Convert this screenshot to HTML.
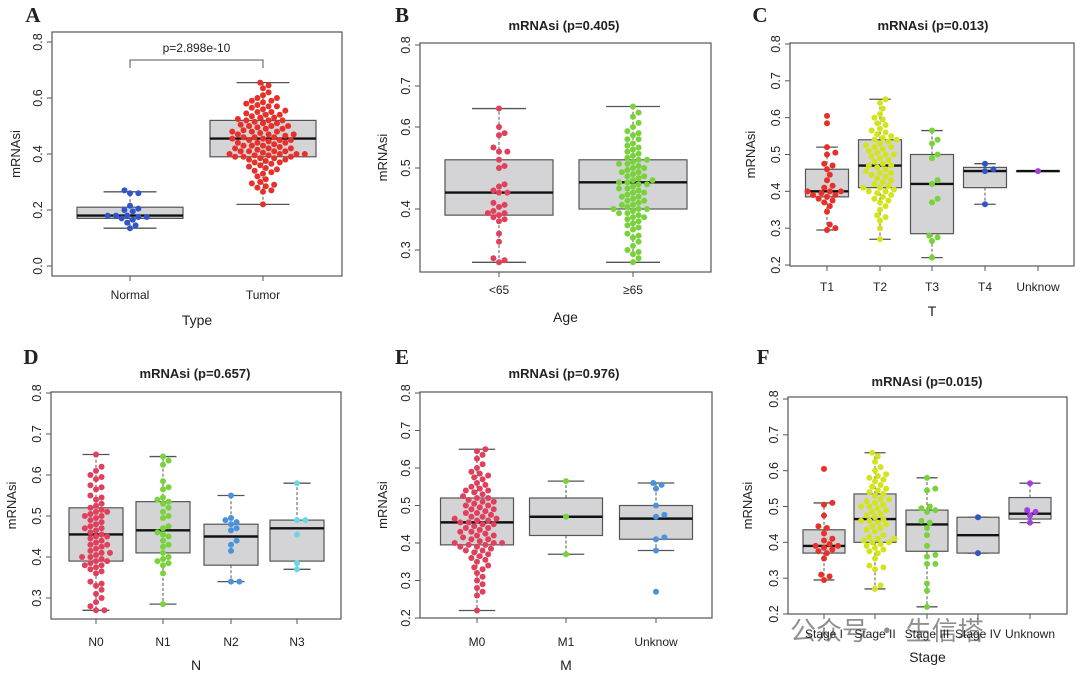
<!DOCTYPE html>
<html><head><meta charset="utf-8"><style>
body{margin:0;background:#fff}
svg text{font-family:"Liberation Sans",sans-serif;fill:#222}
</style></head><body>
<svg id="fig" width="1080" height="675" viewBox="0 0 1080 675" xmlns="http://www.w3.org/2000/svg"></svg>
<script>
// ===== Data =====
const catsA=["Normal","Tumor"];
const loA=[.135,.22], q1A=[.17,.39], medA=[.18,.455], q3A=[.21,.52], hiA=[.265,.655];
const ptsA_Normal=[.27,.26,.26,.215,.205,.2,.195,.18,.18,.18,.175,.175,.17,.165,.155,.145,.135];
const ptsA_Tumor=[.655,.645,.635,.62,.61,.60,.60,.59,.59,.585,.58,.575,.57,.57,.565,.56,.555,.55,.55,.545,.54,.54,.535,.53,.53,.525,.52,.52,.52,.515,.51,.51,.505,.50,.50,.50,.495,.49,.49,.485,.48,.48,.48,.475,.47,.47,.47,.465,.46,.46,.46,.455,.455,.45,.45,.45,.445,.44,.44,.44,.435,.43,.43,.43,.425,.42,.42,.42,.415,.41,.41,.41,.41,.405,.40,.40,.40,.40,.395,.395,.39,.39,.39,.385,.385,.38,.38,.375,.37,.37,.365,.36,.355,.35,.345,.34,.335,.33,.32,.31,.30,.295,.29,.285,.28,.27,.265,.22];

const catsB=["<65","≥65"];
const loB=[.27,.27], q1B=[.385,.40], medB=[.44,.465], q3B=[.52,.52], hiB=[.645,.65];
const ptsB_lt65=[.645,.60,.585,.58,.55,.54,.54,.52,.505,.50,.46,.455,.445,.44,.44,.415,.41,.405,.395,.39,.39,.385,.38,.375,.37,.34,.32,.28,.275,.27];
const ptsB_ge65=[.65,.635,.625,.61,.60,.59,.585,.58,.57,.57,.56,.555,.55,.545,.54,.535,.53,.525,.52,.52,.515,.51,.51,.505,.50,.50,.495,.49,.49,.485,.48,.48,.475,.47,.47,.465,.465,.46,.46,.455,.45,.45,.445,.44,.44,.435,.43,.43,.425,.42,.42,.415,.41,.41,.405,.40,.40,.40,.395,.39,.39,.385,.38,.38,.375,.37,.365,.36,.355,.35,.34,.335,.33,.32,.31,.30,.295,.29,.28,.27];

const catsC=["T1","T2","T3","T4","Unknow"];
const loC=[.295,.27,.22,.365,.455], q1C=[.385,.41,.285,.41,.455], medC=[.40,.47,.42,.455,.455], q3C=[.46,.54,.50,.465,.455], hiC=[.52,.65,.565,.475,.455];
const ptsC_T1=[.605,.585,.52,.505,.50,.475,.47,.46,.445,.43,.415,.41,.40,.40,.40,.395,.39,.39,.385,.38,.375,.37,.36,.345,.31,.30,.295];
const ptsC_T2=[.65,.64,.625,.61,.60,.595,.585,.58,.57,.565,.56,.555,.55,.545,.54,.54,.535,.53,.525,.52,.52,.515,.51,.505,.50,.50,.495,.49,.485,.48,.475,.47,.47,.465,.46,.455,.45,.45,.445,.44,.435,.43,.425,.42,.415,.41,.41,.405,.40,.40,.395,.39,.385,.38,.375,.37,.36,.35,.335,.33,.32,.30,.27];
const ptsC_T3=[.565,.54,.53,.50,.49,.43,.42,.38,.37,.28,.275,.265,.22];
const ptsC_T4=[.475,.46,.455,.365];
const ptsC_Unk=[.455];

const catsD=["N0","N1","N2","N3"];
const loD=[.27,.285,.34,.37], q1D=[.39,.41,.38,.39], medD=[.455,.465,.45,.47], q3D=[.52,.535,.48,.49], hiD=[.65,.645,.55,.58];
const ptsD_N0=[.65,.62,.61,.60,.595,.59,.575,.57,.565,.55,.545,.54,.53,.525,.52,.515,.51,.51,.505,.50,.50,.495,.49,.485,.48,.475,.47,.47,.465,.46,.455,.45,.45,.445,.44,.435,.43,.43,.425,.42,.415,.41,.41,.405,.40,.40,.395,.39,.39,.385,.38,.38,.375,.37,.365,.36,.34,.335,.33,.32,.31,.30,.29,.28,.27,.27];
const ptsD_N1=[.645,.635,.625,.585,.57,.565,.545,.54,.535,.53,.52,.51,.50,.495,.475,.47,.46,.455,.45,.44,.43,.425,.41,.40,.395,.39,.385,.38,.36,.285];
const ptsD_N2=[.55,.495,.49,.485,.48,.47,.465,.44,.43,.415,.34,.34];
const ptsD_N3=[.58,.49,.49,.455,.385,.37];

const catsE=["M0","M1","Unknow"];
const loE=[.22,.37,.38], q1E=[.395,.42,.41], medE=[.455,.47,.465], q3E=[.52,.52,.50], hiE=[.65,.565,.56];
const ptsE_M0=[.65,.645,.635,.625,.61,.60,.59,.585,.58,.575,.57,.56,.555,.55,.545,.54,.54,.535,.53,.525,.52,.52,.515,.51,.51,.505,.50,.50,.495,.49,.49,.485,.48,.48,.475,.47,.47,.465,.465,.46,.46,.455,.455,.45,.45,.445,.44,.44,.435,.43,.43,.425,.42,.42,.415,.41,.41,.405,.40,.40,.40,.395,.395,.39,.39,.385,.38,.38,.375,.37,.365,.36,.355,.35,.34,.335,.33,.32,.31,.30,.29,.28,.27,.26,.22];
const ptsE_M1=[.565,.47,.37];
const ptsE_Unk=[.56,.555,.545,.50,.475,.47,.415,.41,.38,.27];

const catsF=["Stage I","Stage II","Stage III","Stage IV","Unknown"];
const loF=[.295,.27,.22,.37,.455], q1F=[.37,.40,.375,.37,.465], medF=[.39,.465,.45,.42,.48], q3F=[.435,.535,.49,.47,.525], hiF=[.51,.65,.58,.47,.565];
const ptsF_I=[.605,.51,.505,.475,.445,.44,.425,.41,.405,.395,.39,.39,.385,.38,.375,.37,.355,.31,.305,.295];
const ptsF_II=[.65,.64,.625,.61,.60,.59,.585,.58,.575,.57,.56,.555,.55,.545,.54,.535,.53,.52,.52,.515,.51,.505,.50,.50,.495,.49,.485,.48,.475,.47,.465,.46,.46,.455,.45,.445,.44,.435,.43,.42,.415,.41,.41,.405,.40,.40,.395,.39,.385,.38,.375,.37,.355,.335,.33,.325,.28,.27];
const ptsF_III=[.58,.55,.545,.50,.495,.49,.485,.46,.455,.44,.42,.39,.365,.36,.34,.34,.285,.265,.22];
const ptsF_IV=[.47,.37];
const ptsF_Unk=[.565,.49,.485,.475,.455];

const ticksA=[0,.2,.4,.6,.8], ticks28=[.2,.3,.4,.5,.6,.7,.8], ticks38=[.3,.4,.5,.6,.7,.8];

// ===== Drawing =====
const NS="http://www.w3.org/2000/svg";
const svg=document.getElementById('fig');
function mk(tag,attrs,parent){const e=document.createElementNS(NS,tag);for(const k in attrs)e.setAttribute(k,attrs[k]);(parent||svg).appendChild(e);return e;}
const R='#e8302a',B='#2f55c8',G='#78d23a',Y='#d4e41c',LB='#4a92dc',CY='#6ad8e4',P='#a33ee0',PK='#e0405c';

const panels=[
 {id:'a',letter:'A',lx:33,ly:22,L:52,Rt:342,T:32,Bm:276,v0:0,p0:266,v1:.8,p1:42,ticks:ticksA,labels:['0.0','0.2','0.4','0.6','0.8'],
  cats:catsA,xs:[130,263],bw:106,lo:loA,q1:q1A,med:medA,q3:q3A,hi:hiA,pts:[ptsA_Normal,ptsA_Tumor],cols:[B,R],
  xt:'Type',xty:325,tly:299,ylx:20},
 {id:'b',letter:'B',lx:402,ly:22,L:420,Rt:711,T:43,Bm:272,v0:.3,p0:250,v1:.8,p1:45,ticks:ticks38,labels:['0.3','0.4','0.5','0.6','0.7','0.8'],
  cats:catsB,xs:[499,633],bw:108,lo:loB,q1:q1B,med:medB,q3:q3B,hi:hiB,pts:[ptsB_lt65,ptsB_ge65],cols:[PK,G],
  title:'mRNAsi (p=0.405)',tx:564,ty:30,xt:'Age',xty:322,tly:294,ylx:387},
 {id:'c',letter:'C',lx:760,ly:22,L:790,Rt:1074,T:43,Bm:266,v0:.2,p0:265,v1:.8,p1:44,ticks:ticks28,labels:['0.2','0.3','0.4','0.5','0.6','0.7','0.8'],
  cats:catsC,xs:[827,880,932,985,1038],bw:43,lo:loC,q1:q1C,med:medC,q3:q3C,hi:hiC,pts:[ptsC_T1,ptsC_T2,ptsC_T3,ptsC_T4,ptsC_Unk],cols:[R,Y,G,B,P],
  title:'mRNAsi (p=0.013)',tx:933,ty:30,xt:'T',xty:316,tly:291,ylx:755},
 {id:'d',letter:'D',lx:31,ly:364,L:51,Rt:341,T:392,Bm:619,v0:.3,p0:598,v1:.8,p1:393,ticks:ticks38,labels:['0.3','0.4','0.5','0.6','0.7','0.8'],
  cats:catsD,xs:[96,163,231,297],bw:54,lo:loD,q1:q1D,med:medD,q3:q3D,hi:hiD,pts:[ptsD_N0,ptsD_N1,ptsD_N2,ptsD_N3],cols:[PK,G,LB,CY],
  title:'mRNAsi (p=0.657)',tx:195,ty:378,xt:'N',xty:670,tly:646,ylx:16},
 {id:'e',letter:'E',lx:402,ly:364,L:420,Rt:712,T:392,Bm:618,v0:.2,p0:618,v1:.8,p1:393,ticks:ticks28,labels:['0.2','0.3','0.4','0.5','0.6','0.7','0.8'],
  cats:catsE,xs:[477,566,656],bw:73,lo:loE,q1:q1E,med:medE,q3:q3E,hi:hiE,pts:[ptsE_M0,ptsE_M1,ptsE_Unk],cols:[PK,G,LB],
  title:'mRNAsi (p=0.976)',tx:564,ty:378,xt:'M',xty:670,tly:646,ylx:387},
 {id:'f',letter:'F',lx:763,ly:364,L:788,Rt:1067,T:397,Bm:614,v0:.2,p0:614,v1:.8,p1:399,ticks:ticks28,labels:['0.2','0.3','0.4','0.5','0.6','0.7','0.8'],
  cats:catsF,xs:[824,875,927,978,1030],bw:42,lo:loF,q1:q1F,med:medF,q3:q3F,hi:hiF,pts:[ptsF_I,ptsF_II,ptsF_III,ptsF_IV,ptsF_Unk],cols:[R,Y,G,B,P],
  title:'mRNAsi (p=0.015)',tx:927,ty:386,xt:'Stage',xty:662,tly:638,ylx:752}
];

function swarm(vals,cx,y,r){
  const sorted=vals.slice().sort((a,b)=>a-b);const placed=[];
  sorted.forEach(v=>{const py=y(v);let best=cx;
    for(let k=0;k<40;k++){const offs=k===0?[0]:[k*r*0.9,-k*r*0.9];let ok=null;
      for(const o of offs){const px=cx+o;if(placed.every(p=>(p[0]-px)**2+(p[1]-py)**2>=(2*r*0.95)**2)){ok=px;break;}}
      if(ok!==null){best=ok;break;}}
    placed.push([best,py]);});
  return placed;
}

panels.forEach(P0=>{
  const g=mk('g',{});
  
  
  const y=v=>P0.p0+(v-P0.v0)*(P0.p1-P0.p0)/(P0.v1-P0.v0);
  const lt=mk('text',{x:P0.lx,y:P0.ly,'font-size':21,'font-weight':'bold','text-anchor':'middle',style:'font-family:"Liberation Serif",serif'},g);lt.textContent=P0.letter;
  
  if(P0.title){const t=mk('text',{x:P0.tx,y:P0.ty,'font-size':13,'font-weight':'bold','text-anchor':'middle'},g);t.textContent=P0.title;
    }
  const fr=mk('rect',{x:P0.L,y:P0.T,width:P0.Rt-P0.L,height:P0.Bm-P0.T,fill:'none',stroke:'#555','stroke-width':1.2},g);
  
  const ya=mk('g',{},g);
  mk('line',{x1:P0.L,x2:P0.L,y1:y(P0.ticks[0]),y2:y(P0.ticks[P0.ticks.length-1]),stroke:'#555'},ya);
  P0.ticks.forEach((tv,i)=>{const ty=y(tv);mk('line',{x1:P0.L-5,x2:P0.L,y1:ty,y2:ty,stroke:'#555'},ya);
    const t=mk('text',{x:P0.L-10,y:ty,'font-size':12.5,'text-anchor':'middle',transform:`rotate(-90 ${P0.L-10} ${ty})`},ya);t.textContent=P0.labels[i];
    });
  const yl=mk('text',{x:P0.ylx,y:(P0.T+P0.Bm)/2,'font-size':13,'text-anchor':'middle',transform:`rotate(-90 ${P0.ylx} ${(P0.T+P0.Bm)/2})`},g);yl.textContent='mRNAsi';
  
  const xa=mk('g',{},g);
  mk('line',{x1:P0.xs[0],x2:P0.xs[P0.xs.length-1],y1:P0.Bm,y2:P0.Bm,stroke:'#555'},xa);
  P0.cats.forEach((c,i)=>{mk('line',{x1:P0.xs[i],x2:P0.xs[i],y1:P0.Bm,y2:P0.Bm+5,stroke:'#555'},xa);
    const t=mk('text',{x:P0.xs[i],y:P0.tly,'font-size':12,'text-anchor':'middle'},xa);t.textContent=c;
    });
  const xt=mk('text',{x:(P0.L+P0.Rt)/2,y:P0.xty,'font-size':14,'text-anchor':'middle'},g);xt.textContent=P0.xt;
  
  P0.cats.forEach((c,i)=>{
    const bg=mk('g',{},g);
    
    
    const cx=P0.xs[i],hw=P0.bw/2,cw=P0.bw/4;
    mk('line',{x1:cx,x2:cx,y1:y(P0.q3[i]),y2:y(P0.hi[i]),stroke:'#555','stroke-dasharray':'3,2'},bg);
    mk('line',{x1:cx,x2:cx,y1:y(P0.q1[i]),y2:y(P0.lo[i]),stroke:'#555','stroke-dasharray':'3,2'},bg);
    mk('line',{x1:cx-cw,x2:cx+cw,y1:y(P0.hi[i]),y2:y(P0.hi[i]),stroke:'#555','stroke-width':1.3},bg);
    mk('line',{x1:cx-cw,x2:cx+cw,y1:y(P0.lo[i]),y2:y(P0.lo[i]),stroke:'#555','stroke-width':1.3},bg);
    mk('rect',{x:cx-hw,y:y(P0.q3[i]),width:P0.bw,height:Math.max(0.5,y(P0.q1[i])-y(P0.q3[i])),fill:'#d4d4d6',stroke:'#555','stroke-width':1.2},bg);
    mk('line',{x1:cx-hw,x2:cx+hw,y1:y(P0.med[i]),y2:y(P0.med[i]),stroke:'#111','stroke-width':2.4},bg);
    swarm(P0.pts[i],cx,y,3.1).forEach(p=>{
      const d=mk('circle',{cx:p[0],cy:p[1],r:3,fill:P0.cols[i]},bg);
      
      
    });
  });
  if(P0.id==='a'){
    const br=mk('path',{d:`M${P0.xs[0]} 68 V60 H${P0.xs[1]} V68`,fill:'none',stroke:'#555'},g);
    
    const pt=mk('text',{x:(P0.xs[0]+P0.xs[1])/2,y:52,'font-size':12,'text-anchor':'middle'},g);pt.textContent='p=2.898e-10';
    
  }
});
const wm=mk('text',{x:790,y:640,'font-size':26,fill:'#bbb',opacity:0.5,style:'font-family:"Noto Sans CJK SC",sans-serif'});
wm.textContent='   公众号 · 生信塔';


</script>
</body></html>
